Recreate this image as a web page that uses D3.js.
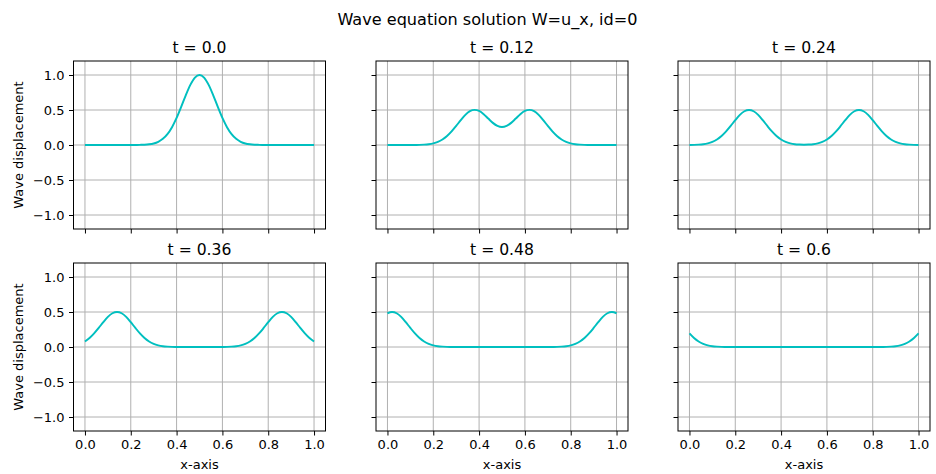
<!DOCTYPE html>
<html>
<head>
<meta charset="utf-8">
<script src="https://cdn.jsdelivr.net/npm/d3@7"></script>
<style>
  body { margin: 0; background: #fff; }
  svg { display: block; }
  text { font-family: "DejaVu Sans", sans-serif; fill: #000; }
</style>
</head>
<body>
<svg id="chart" width="936" height="474"></svg>
<script>
// Sample positions along the string
const xValues = [0.00,0.02,0.04,0.06,0.08,0.10,0.12,0.14,0.16,0.18,0.20,0.22,0.24,0.26,0.28,0.30,0.32,0.34,0.36,0.38,0.40,
  0.42,0.44,0.46,0.48,0.50,0.52,0.54,0.56,0.58,0.60,0.62,0.64,0.66,0.68,0.70,0.72,0.74,0.76,0.78,0.80,
  0.82,0.84,0.86,0.88,0.90,0.92,0.94,0.96,0.98,1.00];

// Snapshot times shown in the panel titles
const timeLabels = ["0.0", "0.12", "0.24", "0.36", "0.48", "0.6"];

// Displacement at each sample position, one array per snapshot
const waveT000 = [0,0,0,0,0,0,0,0,0,0,0,
  0.001,0.002,0.004,0.010,0.022,0.046,0.088,0.155,0.255,0.387,0.544,0.710,0.859,0.963,1.000,
  0.963,0.859,0.710,0.544,0.387,0.255,0.155,0.088,0.046,0.022,0.010,0.004,0.002,0.001,
  0,0,0,0,0,0,0,0,0,0,0];
const waveT012 = [0,0,0,0,0,0,
  0.001,0.002,0.005,0.011,0.023,0.044,0.078,0.128,0.194,0.272,0.355,0.430,0.483,0.502,0.487,0.441,0.378,0.316,0.272,
  0.256,
  0.272,0.316,0.378,0.441,0.487,0.502,0.483,0.430,0.355,0.272,0.194,0.128,0.078,0.044,0.023,0.011,0.005,0.002,0.001,
  0,0,0,0,0,0];
const waveT024 = [0.001,0.002,0.005,0.011,0.023,0.044,0.078,0.128,0.194,0.272,0.355,0.430,0.482,0.500,0.482,0.430,0.355,0.272,0.194,0.128,0.078,0.044,0.023,0.011,0.006,
  0.004,
  0.006,0.011,0.023,0.044,0.078,0.128,0.194,0.272,0.355,0.430,0.482,0.500,0.482,0.430,0.355,0.272,0.194,0.128,0.078,0.044,0.023,0.011,0.005,0.002,0.001];
const waveT036 = [0.078,0.128,0.194,0.272,0.355,0.430,0.482,0.500,0.482,0.430,0.355,0.272,0.194,0.128,0.078,0.044,0.023,0.011,0.005,0.002,0.001,
  0,0,0,0,0,0,0,0,0,
  0.001,0.002,0.005,0.011,0.023,0.044,0.078,0.128,0.194,0.272,0.355,0.430,0.482,0.500,0.482,0.430,0.355,0.272,0.194,0.128,0.078];
const waveT048 = [0.482,0.500,0.482,0.430,0.355,0.272,0.194,0.128,0.078,0.044,0.023,0.011,0.005,0.002,0.001,
  0,0,0,0,0,0,0,0,0,0,0,0,0,0,0,0,0,0,0,0,0,
  0.001,0.002,0.005,0.011,0.023,0.044,0.078,0.128,0.194,0.272,0.355,0.430,0.482,0.500,0.482];
const waveT060 = [0.194,0.128,0.078,0.044,0.023,0.011,0.005,0.002,0.001,
  0,0,0,0,0,0,0,0,0,0,0,0,0,0,0,0,0,0,0,0,0,0,0,0,0,0,0,0,0,0,0,0,0,
  0.001,0.002,0.005,0.011,0.023,0.044,0.078,0.128,0.194];

const xTicks = [0, 0.2, 0.4, 0.6, 0.8, 1.0];
const yTicks = [-1.0, -0.5, 0.0, 0.5, 1.0];

const snapshots = [waveT000, waveT012, waveT024, waveT036, waveT048, waveT060];

const svg = d3.select("#chart");

const panelW = 252, panelH = 168;
const colLeft = [73.5, 376, 678];
const rowTop = [61, 263];
const tickLen = 4.5, tickPad = 4.5;

const x = d3.scaleLinear().domain([-0.05, 1.05]).range([0, panelW]);
const y = d3.scaleLinear().domain([-1.2, 1.2]).range([panelH, 0]);

const line = d3.line()
  .x((d, i) => x(xValues[i]))
  .y(d => y(d))
  .curve(d3.curveMonotoneX);

// Figure title
svg.append("text")
  .attr("x", 487.5).attr("y", 25)
  .attr("text-anchor", "middle")
  .style("font-size", "16.1px")
  .text("Wave equation solution W=u_x, id=0");

snapshots.forEach((values, k) => {
  const row = Math.floor(k / 3), col = k % 3;
  const g = svg.append("g")
    .attr("transform", `translate(${colLeft[col]},${rowTop[row]})`);

  // grid
  g.append("g").selectAll("line").data(xTicks).join("line")
    .attr("x1", d => x(d)).attr("x2", d => x(d))
    .attr("y1", 0).attr("y2", panelH)
    .attr("stroke", "#b0b0b0").attr("stroke-width", 1);
  g.append("g").selectAll("line").data(yTicks).join("line")
    .attr("x1", 0).attr("x2", panelW)
    .attr("y1", d => y(d)).attr("y2", d => y(d))
    .attr("stroke", "#b0b0b0").attr("stroke-width", 1);

  // wave profile
  g.append("path")
    .datum(values)
    .attr("d", line)
    .attr("fill", "none")
    .attr("stroke", "#00bfbf")
    .attr("stroke-width", 1.95)
    .attr("stroke-linejoin", "round");

  // axes
  const xAxis = d3.axisBottom(x).tickValues(xTicks)
    .tickSize(tickLen).tickPadding(tickPad).tickSizeOuter(0)
    .tickFormat(row === 1 ? d3.format(".1f") : () => "");
  const yAxis = d3.axisLeft(y).tickValues(yTicks)
    .tickSize(tickLen).tickPadding(tickPad).tickSizeOuter(0)
    .tickFormat(col === 0 ? d3.format(".1f") : () => "");

  const gx = g.append("g").attr("transform", `translate(0,${panelH})`).call(xAxis);
  const gy = g.append("g").call(yAxis);
  [gx, gy].forEach(a => {
    a.select(".domain").remove();
    a.selectAll(".tick line").attr("stroke", "#000").attr("stroke-width", 1);
    a.selectAll(".tick text").style("font-size", "13px").attr("fill", "#000")
      .style("font-family", "DejaVu Sans, sans-serif");
  });

  // spines
  g.append("rect")
    .attr("x", 0).attr("y", 0).attr("width", panelW).attr("height", panelH)
    .attr("fill", "none").attr("stroke", "#000").attr("stroke-width", 1);

  // panel title
  g.append("text")
    .attr("x", panelW / 2).attr("y", -7.8)
    .attr("text-anchor", "middle")
    .style("font-size", "15.6px")
    .text(`t = ${timeLabels[k]}`);

  if (row === 1) {
    g.append("text")
      .attr("x", panelW / 2).attr("y", panelH + 38)
      .attr("text-anchor", "middle")
      .style("font-size", "13px")
      .text("x-axis");
  }
  if (col === 0) {
    g.append("text")
      .attr("transform", `translate(${18.5 - colLeft[0]},${panelH / 2}) rotate(-90)`)
      .attr("dy", "0.35em")
      .attr("text-anchor", "middle")
      .style("font-size", "13px")
      .text("Wave displacement");
  }
});
</script>
</body>
</html>
